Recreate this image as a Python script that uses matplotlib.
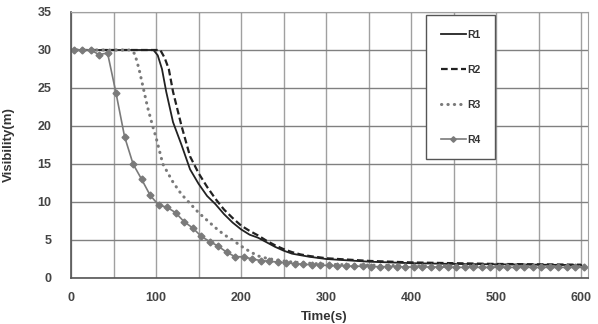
import numpy as np
import matplotlib.pyplot as plt
from matplotlib.ticker import MultipleLocator

plt.rcParams['font.family'] = ['Liberation Sans', 'DejaVu Sans']

# R1 (solid)
t_r1 = [0, 90, 97, 102, 107, 112, 120, 130, 140, 150, 160, 170, 180, 190, 200,
        210, 220, 230, 240, 250, 260, 270, 280, 300, 350, 400, 450, 500, 550, 600]
v_r1 = [30, 30, 30, 29.3, 27.5, 24.5, 20.5, 17.5, 14.3, 12.4, 10.8, 9.7, 8.4, 7.3, 6.4,
        5.7, 5.3, 4.7, 4.1, 3.6, 3.2, 3.0, 2.8, 2.5, 2.15, 1.95, 1.85, 1.8, 1.75, 1.7]

# R2 (dashed)
t_r2 = [0, 100, 105, 110, 115, 120, 130, 140, 150, 160, 170, 180, 190, 200,
        210, 220, 230, 240, 250, 260, 270, 280, 300, 350, 400, 450, 500, 550, 600]
v_r2 = [30, 30, 30, 29, 27.5, 24.5, 20, 16, 13.8, 12.0, 10.4, 9.0, 7.9, 6.9,
        6.2, 5.6, 4.9, 4.3, 3.8, 3.4, 3.1, 2.9, 2.6, 2.25, 2.05, 1.95, 1.85, 1.8, 1.75]

# R3 (dotted)
t_r3 = [0, 70, 75, 80, 85, 90, 96, 100, 108, 120, 130, 140, 150, 160, 170,
        180, 190, 200, 210, 220, 230, 240, 260, 300, 400, 500, 600]
v_r3 = [30, 30, 29.5, 27.5, 25, 22.5, 20, 18.5, 15, 12.6, 11, 9.8, 8.6, 7.6, 6.6,
        5.7, 5.0, 4.2, 3.5, 2.9, 2.6, 2.4, 2.1, 1.8, 1.6, 1.55, 1.5]

# R4 (diamond markers)
t_r4 = list(range(3, 604, 10))
v_r4 = [30, 30, 30, 29.4, 29.6, 24.3, 18.6, 15.0, 13.0, 10.9,
        9.6, 9.3, 8.6, 7.4, 6.6, 5.5, 4.8, 4.2, 3.4, 2.8,
        2.8, 2.5, 2.3, 2.2, 2.1, 2.0, 1.9, 1.8, 1.75, 1.7,
        1.65, 1.6, 1.6, 1.55, 1.55, 1.5, 1.5, 1.5, 1.5, 1.45,
        1.45, 1.45, 1.45, 1.45, 1.4, 1.4, 1.4, 1.4, 1.4, 1.4,
        1.4, 1.4, 1.4, 1.4, 1.4, 1.4, 1.4, 1.4, 1.4, 1.4, 1.4]

fig = plt.figure(figsize=(5.98, 3.24), dpi=100)
ax = fig.add_axes([71 / 598, 1 - 278 / 324, 517 / 598, 266 / 324])

ax.plot(t_r1, v_r1, color='#222222', lw=1.3, label='R1')
ax.plot(t_r2, v_r2, color='#222222', lw=1.6, ls=(0, (3, 1.5)), label='R2')
ax.plot(t_r3, v_r3, color='#7a7a7a', lw=2.2, ls=(0, (0.1, 2.0)),
        dash_capstyle='round', label='R3')
ax.plot(t_r4[:len(v_r4)], v_r4, color='#7a7a7a', lw=1.2, marker='D',
        ms=3.5, label='R4')

ax.set_xlim(0, 608)
ax.set_ylim(0, 35)
ax.xaxis.set_major_locator(MultipleLocator(100))
ax.xaxis.set_minor_locator(MultipleLocator(50))
ax.yaxis.set_major_locator(MultipleLocator(5))
ax.grid(True, which='both', axis='x', color='#a0a0a0', lw=1.0)
ax.grid(True, which='major', axis='y', color='#808080', lw=1.0)
ax.tick_params(which='both', length=0, labelsize=9, labelcolor='#444444')
ax.tick_params(axis='y', pad=14)
ax.tick_params(axis='x', pad=10)
for lab in ax.get_xticklabels() + ax.get_yticklabels():
    lab.set_fontweight('bold')
for s in ax.spines:
    ax.spines[s].set_color('#a0a0a0')
ax.spines['left'].set_color('#555555')
ax.spines['bottom'].set_color('#555555')
ax.spines['left'].set_linewidth(1.2)
ax.spines['bottom'].set_linewidth(1.2)

ax.set_xlabel('Time(s)', fontsize=9.5, fontweight='bold', color='#333333')
ax.set_ylabel('Visibility(m)', fontsize=9.5, fontweight='bold', color='#333333')
ax.xaxis.set_label_coords(0.49, -0.125)
ax.yaxis.set_label_coords(-0.108, 0.5)

leg = ax.legend(loc='upper left', bbox_to_anchor=(0.687, 0.989), fontsize=7.5,
                labelspacing=2.4, borderpad=1.4, handlelength=2.4,
                handletextpad=0.1, fancybox=False, framealpha=1,
                edgecolor='#555555', borderaxespad=0, markerscale=0.8)
leg.get_frame().set_linewidth(1.0)
for t in leg.get_texts():
    t.set_fontweight('bold')
    t.set_color('#333333')

fig.savefig('out.png', dpi=100)
